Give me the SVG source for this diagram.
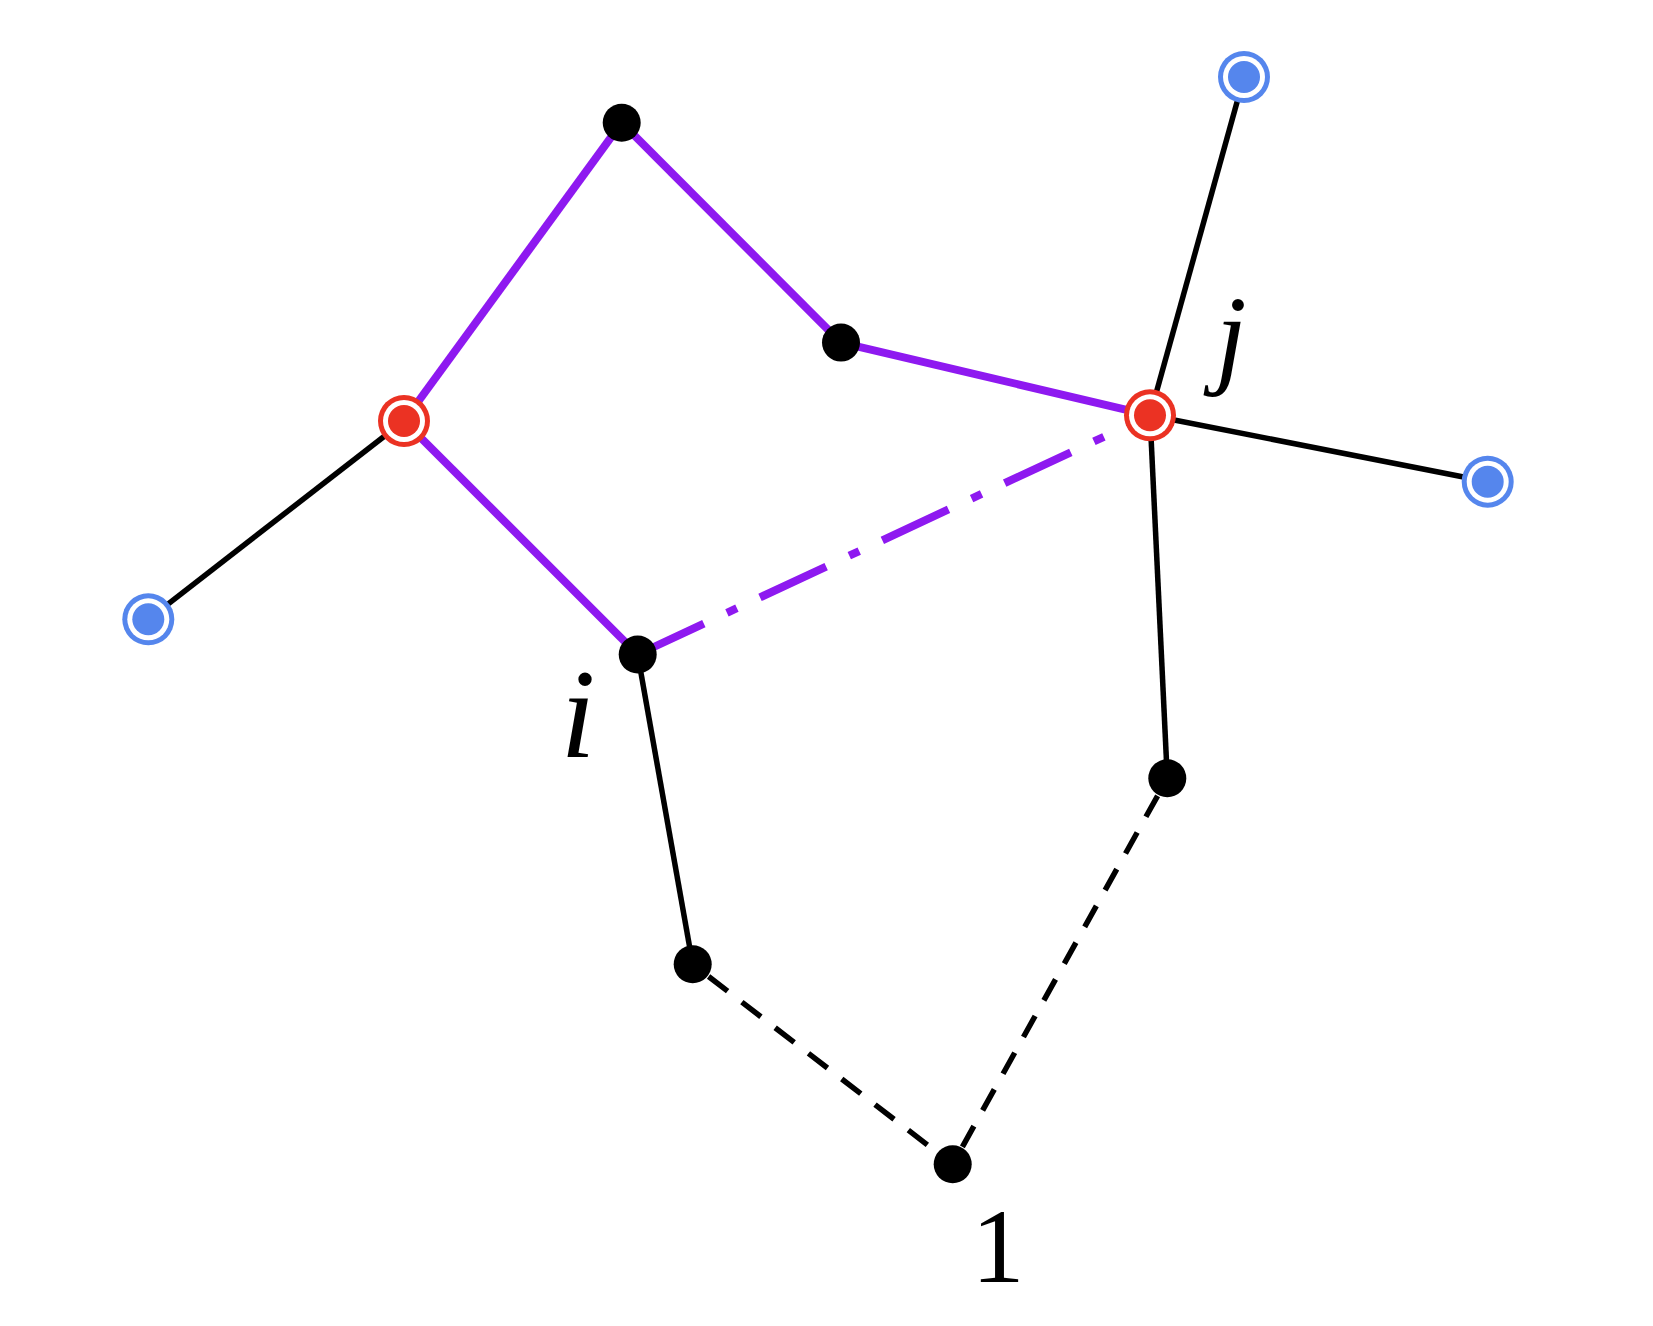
<svg xmlns="http://www.w3.org/2000/svg" width="1653" height="1326" viewBox="0 0 1653 1326">
<style>
.pl{stroke:#8E19F0;stroke-width:8;fill:none}
.bl{stroke:#000;stroke-width:5.5;fill:none}
.dash{stroke-dasharray:24 18}
.dd{stroke-dasharray:73 25.5 11 25.5}
.blk{fill:#000}
.lbl{font-family:"Liberation Serif","DejaVu Serif",serif;fill:#000}
</style>
<defs>
<g id="red"><circle r="26" fill="#EB3223"/><circle r="21" fill="#fff"/><circle r="16" fill="#EB3223"/></g>
<g id="blue"><circle r="26" fill="#5586ED"/><circle r="21" fill="#fff"/><circle r="16" fill="#5586ED"/></g>
</defs>
<rect width="1653" height="1326" fill="#fff"/>
<g id="connectors">
<line class="pl" x1="404" y1="421" x2="621.7" y2="122.7"/>
<line class="pl" x1="621.7" y1="122.7" x2="841" y2="342.6"/>
<line class="pl" x1="841" y1="342.6" x2="1150" y2="415.3"/>
<line class="pl" x1="404" y1="421" x2="637.7" y2="654.5"/>
<line class="pl dd" x1="637.7" y1="654.5" x2="1150" y2="415.3"/>
<line class="bl" x1="148.3" y1="619.3" x2="404" y2="421"/>
<line class="bl" x1="1150" y1="415.3" x2="1244" y2="77"/>
<line class="bl" x1="1150" y1="415.3" x2="1487.7" y2="481.7"/>
<line class="bl" x1="1150" y1="415.3" x2="1167.3" y2="778.3"/>
<line class="bl" x1="637.7" y1="654.5" x2="692.7" y2="964.3"/>
<line class="bl dash" x1="708.6" y1="976.5" x2="936.8" y2="1152.1"/>
<line class="bl dash" x1="1157.6" y1="795.8" x2="962.4" y2="1146.8"/>
</g>
<g id="node-top"><circle class="blk" cx="621.7" cy="122.7" r="19"/></g>
<g id="node-mid"><circle class="blk" cx="841" cy="342.6" r="19"/></g>
<g id="node-red-left"><use href="#red" x="404" y="421"/></g>
<g id="node-j"><use href="#red" x="1150" y="415.3"/><text class="lbl" x="1231" y="373" font-size="112" font-style="italic" text-anchor="middle">j</text></g>
<g id="node-blue-top"><use href="#blue" x="1244" y="77"/></g>
<g id="node-blue-right"><use href="#blue" x="1487.7" y="481.7"/></g>
<g id="node-blue-left"><use href="#blue" x="148.3" y="619.3"/></g>
<g id="node-i"><circle class="blk" cx="637.7" cy="654.5" r="19"/><text class="lbl" x="578" y="757" font-size="126" font-style="italic" text-anchor="middle">i</text></g>
<g id="node-right-lower"><circle class="blk" cx="1167.3" cy="778.3" r="19"/></g>
<g id="node-lower-left"><circle class="blk" cx="692.7" cy="964.3" r="19"/></g>
<g id="node-1"><circle class="blk" cx="952.7" cy="1164.3" r="19"/><text class="lbl" x="998" y="1282" font-size="106" text-anchor="middle">1</text></g>
</svg>
